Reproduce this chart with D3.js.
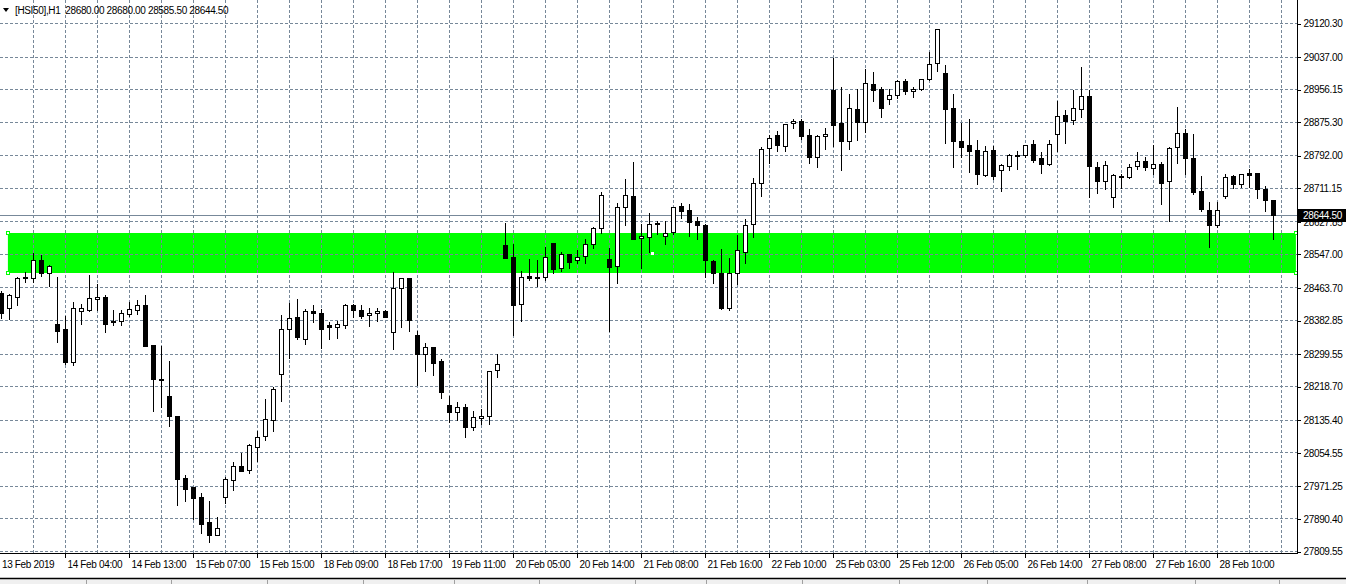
<!DOCTYPE html>
<html><head><meta charset="utf-8">
<script src="https://cdn.jsdelivr.net/npm/d3@7"></script>
<style>
body{margin:0;background:#fff;overflow:hidden}
svg{display:block}
text{font-family:"Liberation Sans",Arial,sans-serif;font-size:10px;letter-spacing:-0.35px;fill:#000}
</style>
</head><body>
<svg id="c" width="1346" height="584"></svg>
<script>
// ---- data ----
const symbol = "[HSI50],H1";
const open = [28450,28413.5,28441,28487,28488,28532,28500.5,28373,28360.5,28279.5,28406,28408.5,28434.5,28439.5,28380.5,28380,28398.5,28408.5,28419.5,28320,28236,28194.5,28144.5,27990.5,27968.5,27943.5,27881.5,27850,27944.5,27985,28020.5,28011.5,28068.5,28094.5,28135.5,28248,28360,28389.5,28336.5,28404.5,28400.5,28370,28365,28370,28419.5,28407,28394.5,28399.5,28404.5,28352.5,28461.5,28486.5,28345,28298,28315,28280.5,28171,28154,28168,28116.5,28139,28144,28259.5,28568.5,28538.5,28423.5,28491.5,28489.5,28489,28573.5,28511.5,28546,28531,28541,28571,28610.5,28533.5,28516.5,28663,28691,28586,28588.5,28624,28591,28601.5,28666,28655.5,28629,28619,28529.5,28499,28413.5,28499,28552.5,28620.5,28722.5,28809,28841.5,28815.5,28871.5,28876.5,28841.5,28787,28839,28954,28871.5,28826.5,28906,28874,28968,28955.5,28931,28941,28975.5,28951,28955.5,28980.5,29020,28996,28908.5,28827.5,28817.5,28805,28743,28805,28754.5,28764.5,28791,28792,28819,28784.5,28769.5,28844,28892,28880.5,28906,28939,28762,28727.5,28687.5,28740,28737.5,28764.5,28777,28759.5,28769.5,28727.5,28811.5,28846.5,28784.5,28702.5,28655.5,28619.5,28691,28740.5,28720,28748,28748,28708,28680];
const high = [28455,28449,28490.5,28504.5,28550,28544.5,28522,28492,28393,28430,28424.5,28497,28472.5,28447.5,28408,28408,28430,28435,28447.5,28321,28318.5,28283.5,28145,28000.5,27968.5,27956,27934.5,27894,27994,28030.5,28053.5,28077,28107.5,28187,28217.5,28395.5,28426,28437,28410.5,28422.5,28412,28379,28383,28424.5,28424.5,28422,28414.5,28414.5,28408,28504,28486.5,28487,28358,28327.5,28315.5,28288,28194.5,28181,28174.5,28158,28163,28255.5,28300.5,28624.5,28573.5,28507,28536,28532,28565,28574,28552,28546.5,28559,28586,28615.5,28702.5,28563.5,28675,28735,28777.5,28621.5,28649.5,28629,28629,28666,28675,28671,28641,28623,28533.5,28559.5,28537,28596,28635.5,28737.5,28813,28844.5,28854.5,28871.5,28883.5,28883,28859,28844,28861.5,29035,28962,28946,28958,29008,29000.5,28962,28958,28979,28983,28962,28983,29049,29105,29018.5,28946,28874,28883.5,28831.5,28816.5,28816.5,28772,28797,28805,28817,28830,28802.5,28830,28927.5,28906,28955.5,29013.5,28954,28776,28778.5,28747,28747,28770.5,28802.5,28790,28817.5,28776,28813,28912.5,28859,28846.5,28740.5,28676,28676.5,28745.5,28743,28747,28759.5,28748.5,28718,28680];
const low = [28388,28385.5,28422.5,28478,28478,28493,28467.5,28329,28274,28272,28375,28407.5,28408,28354,28371.5,28373,28393,28398.5,28319,28158,28168,28120.5,27926,27934.5,27889.5,27856.5,27832.5,27849.5,27929.5,27961,28009,28003.5,28033.5,28086,28108,28182.5,28290.5,28337.5,28324,28379,28314,28336.5,28339.5,28365,28391,28388.5,28369,28381.5,28391,28312,28366.5,28356.5,28222,28257,28247,28191,28130.5,28136.5,28093.5,28111.5,28126.5,28125,28242,28537,28346,28383,28484,28468,28482.5,28500.5,28506.5,28514,28525.5,28525.5,28562.5,28600.5,28356.5,28475.5,28620.5,28584.5,28513,28552.5,28597.5,28572.5,28598.5,28637,28592.5,28586,28490.5,28475.5,28411,28408.5,28472.5,28525.5,28590,28691.5,28773.5,28805,28805,28860.5,28833,28773.5,28763.5,28808.5,28815,28755.5,28808.5,28830,28852,28927.5,28887.5,28921,28936,28946,28937.5,28955,28980,29002,28823,28763.5,28788.5,28751,28721.5,28740.5,28734,28705.5,28755.5,28758,28788.5,28776,28748.5,28769,28805,28823,28870.5,28887.5,28689,28699,28710.5,28664.5,28711.5,28737,28758,28757,28747,28671,28629.5,28773.5,28747,28697.5,28654.5,28565,28614.5,28687.5,28711.5,28714,28715.5,28687.5,28656,28585.5];
const close = [28400,28445,28486.5,28490,28532,28500.5,28517,28356.5,28278.5,28412,28412,28437,28439.5,28372.5,28377,28399.5,28409.5,28419.5,28319,28237.5,28233.5,28145.5,27989,27963.5,27942,27877.5,27850,27866.5,27988.5,28020,28009,28072.5,28092.5,28136.5,28211.5,28360,28387,28341.5,28404.5,28401,28361.5,28366.5,28373,28419.5,28407,28393.5,28399.5,28404.5,28391,28461.5,28486.5,28382.5,28299.5,28315,28277,28205,28154,28168,28118,28141.5,28144,28255.5,28273,28537.5,28421,28489,28488,28486.5,28538.5,28510.5,28546,28527.5,28538.5,28571,28610.5,28692.5,28514,28663,28692.5,28585,28591,28621.5,28620.5,28598.5,28663,28654.5,28627,28619.5,28531,28500.5,28413.5,28499,28556,28618,28722.5,28807,28835,28818,28869,28876.5,28840.5,28787,28839,28844,28868,28828,28908.5,28874,28970.5,28954.5,28910,28941,28975.5,28951,28955.5,28980.5,29018.5,29104.5,28907.5,28828,28813,28803.5,28746,28802.5,28741,28767,28792,28792,28816.5,28780,28769.5,28819,28888.5,28878,28908.5,28938.5,28766,28729,28767,28742,28737.5,28762,28777,28762,28769.5,28724,28809,28846.5,28786,28701.5,28659.5,28619.5,28655.5,28737.5,28720,28744.5,28743.5,28707.5,28680,28644.5];
const priceTicks = [29120.30,29037.00,28956.15,28875.30,28792.00,28711.15,28627.85,28547.00,28463.70,28382.85,28299.55,28218.70,28135.40,28054.55,27971.25,27890.40,27809.55];
const timeLabels = ["13 Feb 2019","14 Feb 04:00","14 Feb 13:00","15 Feb 07:00","15 Feb 15:00","18 Feb 09:00","18 Feb 17:00","19 Feb 11:00","20 Feb 05:00","20 Feb 14:00","21 Feb 08:00","21 Feb 16:00","22 Feb 10:00","25 Feb 03:00","25 Feb 12:00","26 Feb 05:00","26 Feb 14:00","27 Feb 08:00","27 Feb 16:00","28 Feb 10:00"];
const timeLabelBars = [0,8,16,24,32,40,48,56,64,72,80,88,96,104,112,120,128,136,144,152];
const zonePrices = [28601, 28500];   // support zone (top, bottom)
const zoneBars = [0.8, 161.8];       // zone time span in bar units
const barsInView = 162;

// ---- layout ----
const W = 1346, H = 584;
const plotRight = 1297, plotBottom = 553;
const svg = d3.select("#c");
svg.append("rect").attr("width",W).attr("height",H).attr("fill","#fff");

const x = d3.scaleLinear().domain([0, barsInView]).range([1.5, 1.5 + 8*barsInView]);
const y = d3.scaleLinear().domain([27809.55, 29120.30]).range([551.5, 23.5]);
const snap = v => Math.round(v - 0.5) + 0.5;

const plot = svg.append("g");
svg.append("clipPath").attr("id","pc").append("rect").attr("x",0).attr("y",0).attr("width",plotRight).attr("height",plotBottom);
plot.attr("clip-path","url(#pc)");

// support zone
const zx0 = x(zoneBars[0]), zx1 = Math.min(x(zoneBars[1]), plotRight - 1);
const zy0 = Math.round(y(zonePrices[0])), zy1 = Math.round(y(zonePrices[1]));
plot.append("rect").attr("x", zx0).attr("y", zy0).attr("width", zx1 - zx0).attr("height", zy1 - zy0).attr("fill", "#00ff00");

// grid
const gridColor = "#778899";
const grid = plot.append("g").attr("stroke", gridColor).attr("stroke-width", 1).attr("stroke-dasharray", "3,2").attr("shape-rendering","crispEdges");
grid.selectAll("line.h").data(priceTicks).join("line").attr("class","h")
  .attr("x1", 0).attr("x2", plotRight).attr("y1", d => snap(y(d))).attr("y2", d => snap(y(d)));
grid.selectAll("line.v").data(d3.range(4, barsInView, 4)).join("line").attr("class","v")
  .attr("x1", d => x(d)).attr("x2", d => x(d)).attr("y1", 0).attr("y2", plotBottom);

// current price line
const lastIdx = close.length - 1;
const cp = close[lastIdx];
plot.append("line").attr("x1",0).attr("x2",plotRight).attr("y1",snap(y(cp))).attr("y2",snap(y(cp)))
  .attr("stroke", gridColor).attr("stroke-width",1).attr("shape-rendering","crispEdges");

// zone markers
[[zx0, zy0],[zx0, zy1],[zx1, zy0],[zx1, zy1]].forEach(([mx,my]) => {
  plot.append("rect").attr("x", Math.round(mx)-1.5).attr("y", my-1.5).attr("width",3).attr("height",3)
    .attr("fill","#fff").attr("stroke","#00ff00").attr("stroke-width",1);
});
plot.append("rect").attr("x", Math.round((zx0+zx1)/2)-1).attr("y", Math.round((zy0+zy1)/2)-1).attr("width",3).attr("height",3).attr("fill","#fff");

// candles
const bars = open.map((o,i) => ({i, o, h: high[i], l: low[i], c: close[i]}));
const cg = plot.append("g").attr("shape-rendering","crispEdges");
const cands = cg.selectAll("g").data(bars).join("g");
cands.append("line")
  .attr("x1", d => x(d.i)).attr("x2", d => x(d.i))
  .attr("y1", d => Math.round(y(d.h))).attr("y2", d => Math.round(y(d.l)) + 1)
  .attr("stroke","#000").attr("stroke-width",1);
cands.each(function(d){
  const g = d3.select(this);
  const top = snap(y(Math.max(d.o, d.c))), bot = snap(y(Math.min(d.o, d.c)));
  const cx = x(d.i);
  if (bot - top < 1) {
    g.append("line").attr("x1", cx-2.5).attr("x2", cx+2.5).attr("y1", top).attr("y2", top)
      .attr("stroke","#000").attr("stroke-width",1);
  } else {
    g.append("rect").attr("x", cx-2).attr("y", top).attr("width", 4).attr("height", bot-top)
      .attr("fill", d.c >= d.o ? "#fff" : "#000").attr("stroke","#000").attr("stroke-width",1);
  }
});

// right price axis
svg.append("line").attr("x1",plotRight+0.5).attr("x2",plotRight+0.5).attr("y1",0).attr("y2",plotBottom)
  .attr("stroke","#000").attr("shape-rendering","crispEdges");
const ya = svg.append("g").attr("transform",`translate(${plotRight+0.5},0)`)
  .call(d3.axisRight(y).tickValues(priceTicks).tickSize(3).tickSizeOuter(0).tickPadding(3).tickFormat(d3.format(".2f")));
ya.select(".domain").remove();
ya.selectAll(".tick line").attr("stroke","#000").attr("shape-rendering","crispEdges");
ya.selectAll(".tick text").attr("font-family",null).attr("font-size",null).style("font-size","10px");

// current price label
const cpy = snap(y(cp));
svg.append("rect").attr("x", plotRight+1).attr("y", cpy-6.5).attr("width", W-plotRight-1).attr("height", 13).attr("fill","#000");
svg.append("text").attr("x", plotRight+6).attr("y", cpy+3.5).text(d3.format(".2f")(cp)).style("fill","#fff");

// bottom time axis
svg.append("line").attr("x1",0).attr("x2",plotRight+1).attr("y1",plotBottom+0.5).attr("y2",plotBottom+0.5)
  .attr("stroke","#000").attr("shape-rendering","crispEdges");
const tg = svg.append("g");
timeLabels.forEach((t,k) => {
  const b = timeLabelBars[k];
  const px = k === 0 ? 1 : x(b);
  if (k > 0) tg.append("line").attr("x1",px).attr("x2",px).attr("y1",plotBottom).attr("y2",plotBottom+5)
      .attr("stroke","#000").attr("shape-rendering","crispEdges");
  tg.append("text").attr("x", k === 0 ? 2 : px + 2).attr("y", 568).text(t);
});

// header
svg.append("path").attr("d","M3,8 L9,8 L6,12 Z").attr("fill","#000");
const f2 = d3.format(".2f");
svg.append("text").attr("x",15).attr("y",14).attr("xml:space","preserve").style("white-space","pre")
  .text(`${symbol}  ${f2(open[lastIdx])} ${f2(high[lastIdx])} ${f2(low[lastIdx])} ${f2(close[lastIdx])}`);

// window bottom strip
svg.append("rect").attr("x",0).attr("y",579).attr("width",W).attr("height",5).attr("fill","#f0f0f0");
svg.append("line").attr("x1",0).attr("x2",W).attr("y1",578.5).attr("y2",578.5).attr("stroke","#000").attr("stroke-width",1.5);
[86,171,267,363,454,539,635,706,802,899,987,1087,1195,1279].forEach(sx => {
  svg.append("line").attr("x1",sx+0.5).attr("x2",sx+0.5).attr("y1",580).attr("y2",584).attr("stroke","#a0a0a0");
});
</script>
</body></html>
